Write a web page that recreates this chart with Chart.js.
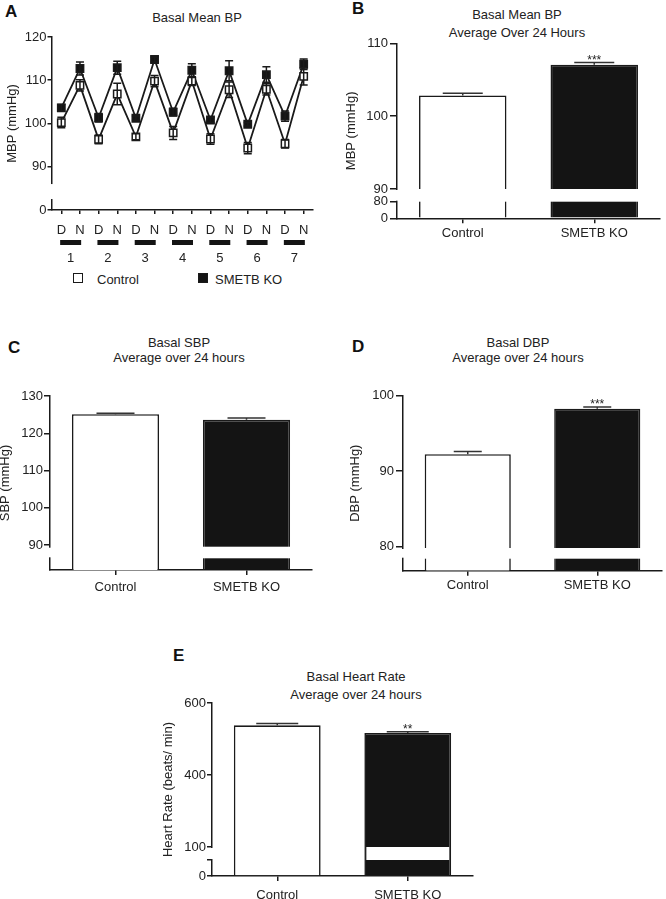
<!DOCTYPE html>
<html>
<head>
<meta charset="utf-8">
<title>Basal blood pressure and heart rate</title>
<script src="https://cdn.jsdelivr.net/npm/chart.js@4.4.1/dist/chart.umd.min.js"></script>
<style>
    body { margin: 0; background: #fff; }
    #fig {
        position: relative; width: 666px; height: 899px; overflow: hidden;
        font-family: "Liberation Sans", Arial, sans-serif; color: #222;
    }
    #fig canvas { position: absolute; }
    .letter { position: absolute; font-weight: bold; font-size: 17px; line-height: 17px; color: #111; }
    .title { position: absolute; transform: translateX(-50%); text-align: center; font-size: 13px; white-space: nowrap; }
    .legend-item { position: absolute; font-size: 13px; line-height: 14px; white-space: nowrap; }
    .legend-item .box {
        position: absolute; left: 0; top: 0; width: 8px; height: 8px;
        border: 1.3px solid #1a1a1a; background: #fff;
    }
    .legend-item .box.filled { background: #141414; }
</style>
</head>
<body>
<div id="fig">
    <div class="letter" style="left:5px; top:3px;">A</div>
    <div class="letter" style="left:352px; top:0px;">B</div>
    <div class="letter" style="left:8px; top:339px;">C</div>
    <div class="letter" style="left:352px; top:338px;">D</div>
    <div class="letter" style="left:173px; top:647px;">E</div>

    <div class="title" style="left:197px; top:10px; line-height:16px;">Basal Mean BP</div>
    <div class="title" style="left:517px; top:6px; line-height:18px;">Basal Mean BP<br>Average Over 24 Hours</div>
    <div class="title" style="left:179px; top:335px; line-height:15px;">Basal SBP<br>Average over 24 hours</div>
    <div class="title" style="left:518px; top:335px; line-height:15px;">Basal DBP<br>Average over 24 hours</div>
    <div class="title" style="left:356px; top:668px; line-height:18px;">Basal Heart Rate<br>Average over 24 hours</div>

    <div class="legend-item" style="left:73px; top:273px;"><span class="box"></span><span style="margin-left:24px;">Control</span></div>
    <div class="legend-item" style="left:198px; top:273px;"><span class="box filled"></span><span style="margin-left:17px;">SMETB KO</span></div>

    <canvas id="chart-a" width="330" height="270" style="left:0px; top:0px;"></canvas>
    <canvas id="chart-b" width="336" height="250" style="left:330px; top:0px;"></canvas>
    <canvas id="chart-c" width="324" height="275" style="left:-6px; top:330px;"></canvas>
    <canvas id="chart-d" width="326" height="275" style="left:340px; top:330px;"></canvas>
    <canvas id="chart-e" width="340" height="259" style="left:150px; top:640px;"></canvas>
</div>

<script>
// ---- values ----
const dayNight = ['D', 'N', 'D', 'N', 'D', 'N', 'D', 'N', 'D', 'N', 'D', 'N', 'D', 'N'];
const days = ['1', '2', '3', '4', '5', '6', '7'];
const controlMBP = [100.2, 108.8, 96.3, 106.8, 96.9, 109.8, 97.8, 109.8, 96.4, 107.8, 94.3, 107.9, 95.3, 110.9];
const controlMBPErr = [1.2, 1.3, 1.0, 2.5, 0.7, 1.3, 1.5, 1.0, 1.2, 1.8, 1.3, 1.3, 1.0, 2.0];
const koMBP = [103.6, 112.7, 101.3, 112.9, 101.2, 114.8, 102.6, 112.3, 100.8, 112.2, 99.8, 111.3, 101.7, 113.7];
const koMBPErr = [0.8, 1.5, 1.0, 1.5, 0.5, 0.6, 0.9, 1.5, 0.6, 2.3, 0.4, 1.8, 1.2, 1.2];

const groups = ['Control', 'SMETB KO'];
const meanBP24 = [102.84, 107.06];
const meanBP24Err = [0.3, 0.3];
const meanBP24Stars = ['', '***'];
const sbp24 = [125.1, 123.6];
const sbp24Err = [0.3, 0.5];
const sbp24Stars = ['', ''];
const dbp24 = [92.26, 98.27];
const dbp24Err = [0.35, 0.25];
const dbp24Stars = ['', '***'];
const hr24 = [538, 517];
const hr24Err = [5, 3];
const hr24Stars = ['', '**'];

const aTicks = [0, 90, 100, 110, 120];
const aTickLabels = ['0', '90', '100', '110', '120'];
const bTicks = [0, 80, 90, 100, 110];
const bTickLabels = ['0', '80', '90', '100', '110'];
const cTicks = [90, 100, 110, 120, 130];
const cTickLabels = ['90', '100', '110', '120', '130'];
const dTicks = [80, 90, 100];
const dTickLabels = ['80', '90', '100'];
const eTicks = [0, 50, 100, 400, 600];
const eTickLabels = ['0', '', '100', '400', '600'];

const INK = '#1a1a1a';
Chart.defaults.font.family = '"Liberation Sans", Arial, sans-serif';
Chart.defaults.color = '#222';

// Linear scale cut into segments (value range + relative height), with gaps between them
class SegmentedScale extends Chart.LinearScale {
    static id = 'segmented';

    determineDataLimits() {
        const segs = this.options.segments;
        this.min = segs[0][0];
        this.max = segs[segs.length - 1][1];
    }

    buildTicks() {
        return this.options.tickValues.map(value => ({ value }));
    }

    getPixelForValue(value) {
        const segs = this.options.segments;
        const gaps = this.options.gaps || [];
        const total = segs.reduce((s, g) => s + g[2], 0) + gaps.reduce((s, g) => s + g, 0);
        let acc = 0;
        let offset = 0;
        for (let i = 0; i < segs.length; i++) {
            const [lo, hi, w] = segs[i];
            if (value <= hi || i === segs.length - 1) {
                if (value < lo && i > 0) {
                    const prevHi = segs[i - 1][1];
                    const g = gaps[i - 1] || 0;
                    offset = acc - g + g * (value - prevHi) / (lo - prevHi);
                } else {
                    offset = acc + w * (value - lo) / (hi - lo);
                }
                break;
            }
            acc += w + (gaps[i] || 0);
        }
        return this.bottom - (this.bottom - this.top) * offset / total;
    }
}
Chart.register(SegmentedScale);

// white-out the axis (and chosen bars) inside each break
const segmentBreaks = {
    id: 'segmentBreaks',
    afterDatasetsDraw(chart, args, opts) {
        const y = chart.scales.y;
        const segs = y.options.segments;
        const gaps = y.options.gaps || [];
        const ctx = chart.ctx;
        const meta = chart.getDatasetMeta(0);
        const inset = opts.inset || 0;
        ctx.save();
        ctx.fillStyle = '#fff';
        gaps.forEach((g, i) => {
            if (!g) return;
            const yBottom = y.getPixelForValue(segs[i][1]);
            const yTop = y.getPixelForValue(segs[i + 1][0]);
            ctx.fillRect(chart.chartArea.left - 2, yTop + 1, 4, yBottom - yTop - 2);
            (opts.cut || []).forEach((cut, j) => {
                if (!cut) return;
                const bar = meta.data[j];
                ctx.fillRect(bar.x - bar.width / 2 + inset, yTop, bar.width - 2 * inset, yBottom - yTop);
            });
        });
        ctx.restore();
    }
};

const errorBars = {
    id: 'errorBars',
    afterDatasetsDraw(chart, args, opts) {
        const ctx = chart.ctx;
        const y = chart.scales.y;
        ctx.save();
        ctx.strokeStyle = opts.color || INK;
        ctx.lineWidth = opts.lineWidth || 1.5;
        chart.data.datasets.forEach((ds, i) => {
            if (!ds.errors) return;
            const meta = chart.getDatasetMeta(i);
            meta.data.forEach((el, j) => {
                const v = ds.data[j];
                const e = ds.errors[j];
                const yHi = y.getPixelForValue(v + e);
                const yLo = opts.both ? y.getPixelForValue(v - e) : el.y;
                const half = opts.capWidth / 2;
                ctx.beginPath();
                ctx.moveTo(el.x, yLo);
                ctx.lineTo(el.x, yHi);
                ctx.moveTo(el.x - half, yHi);
                ctx.lineTo(el.x + half, yHi);
                if (opts.both) {
                    ctx.moveTo(el.x - half, yLo);
                    ctx.lineTo(el.x + half, yLo);
                }
                ctx.stroke();
                if (ds.stars && ds.stars[j]) {
                    ctx.fillStyle = '#222';
                    ctx.font = '12px "Liberation Sans", Arial, sans-serif';
                    ctx.textAlign = 'center';
                    ctx.textBaseline = 'alphabetic';
                    ctx.fillText(ds.stars[j], el.x, yHi + 1);
                }
            });
        });
        ctx.restore();
    }
};

// black bar under each D/N pair
const dayBars = {
    id: 'dayBars',
    afterDraw(chart, args, opts) {
        const x2 = chart.scales.x2;
        const ctx = chart.ctx;
        ctx.save();
        ctx.fillStyle = '#141414';
        x2.ticks.forEach((t, i) => {
            const cx = x2.getPixelForTick(i);
            ctx.fillRect(cx - opts.width / 2, x2.top + opts.offset, opts.width, opts.height);
        });
        ctx.restore();
    }
};

function yAxis(segments, gaps, tickValues, tickLabels, title, width, tickLength, padding) {
    return {
        type: 'segmented',
        position: 'left',
        segments: segments,
        gaps: gaps,
        tickValues: tickValues,
        grid: { drawOnChartArea: false, tickLength: tickLength, color: INK, lineWidth: 1.5 },
        border: { color: INK, width: 1.5 },
        ticks: { font: { size: 13 }, padding: padding, autoSkip: false, callback: (v, i) => tickLabels[i] },
        title: { display: true, text: title, font: { size: 13 }, padding: { top: 4, bottom: 4 } },
        afterFit: s => { s.width = width; }
    };
}

function barChart(id, values, errors, stars, yScale, padding, xHeight, xPad, cut, inset, capWidth) {
    return new Chart(document.getElementById(id), {
        type: 'bar',
        data: {
            labels: groups,
            datasets: [{
                data: values,
                errors: errors,
                stars: stars,
                backgroundColor: ['#ffffff', '#141414'],
                borderColor: INK,
                borderWidth: 1.6,
                borderSkipped: 'start',
                barPercentage: 0.665,
                categoryPercentage: 1
            }]
        },
        options: {
            responsive: false,
            animation: false,
            events: [],
            layout: { padding: padding },
            plugins: {
                legend: { display: false },
                tooltip: { enabled: false },
                segmentBreaks: { cut: cut, inset: inset },
                errorBars: { capWidth: capWidth, color: '#333' }
            },
            scales: {
                x: {
                    offset: true,
                    grid: { drawOnChartArea: false, offset: false, tickLength: 5, color: INK, lineWidth: 1.5 },
                    border: { color: INK, width: 1.5 },
                    ticks: { font: { size: 13 }, padding: xPad, maxRotation: 0 },
                    afterFit: s => { s.height = xHeight; }
                },
                y: yScale
            }
        },
        plugins: [segmentBreaks, errorBars]
    });
}

// A: mean BP over 7 days
new Chart(document.getElementById('chart-a'), {
    type: 'line',
    data: {
        labels: dayNight,
        datasets: [
            {
                label: 'Control',
                data: controlMBP,
                errors: controlMBPErr,
                borderColor: INK,
                borderWidth: 1.8,
                pointStyle: 'rect',
                pointRadius: 5.2,
                pointBackgroundColor: '#fff',
                pointBorderColor: INK,
                pointBorderWidth: 1.5,
                tension: 0
            },
            {
                label: 'SMETB KO',
                data: koMBP,
                errors: koMBPErr,
                borderColor: INK,
                borderWidth: 1.8,
                pointStyle: 'rect',
                pointRadius: 5.2,
                pointBackgroundColor: '#141414',
                pointBorderColor: INK,
                pointBorderWidth: 1.5,
                tension: 0
            }
        ]
    },
    options: {
        responsive: false,
        animation: false,
        events: [],
        layout: { padding: { top: 37, right: 17, bottom: 0, left: 1 } },
        plugins: {
            legend: { display: false },
            tooltip: { enabled: false },
            segmentBreaks: { cut: [] },
            errorBars: { capWidth: 8, both: true },
            dayBars: { width: 21, height: 5, offset: 4 }
        },
        scales: {
            x: {
                type: 'category',
                offset: true,
                grid: { drawOnChartArea: false, offset: false, tickLength: 4, color: INK, lineWidth: 1.5 },
                border: { color: INK, width: 1.5 },
                ticks: { font: { size: 13 }, padding: 9, autoSkip: false, maxRotation: 0 },
                afterFit: s => { s.height = 26; }
            },
            x2: {
                type: 'category',
                labels: days,
                position: 'bottom',
                weight: 1,
                offset: true,
                grid: { display: false, drawTicks: false },
                border: { display: false },
                ticks: { font: { size: 13 }, padding: 15, autoSkip: false, maxRotation: 0 },
                afterFit: s => { s.height = 34; }
            },
            y: yAxis([[0, 2.3, 10], [86.2, 120, 146.3]], [17], aTicks, aTickLabels, 'MBP (mmHg)', 51, 4.5, 1)
        }
    },
    plugins: [segmentBreaks, errorBars, dayBars]
});

// B: mean BP, 24 h average
barChart('chart-b', meanBP24, meanBP24Err, meanBP24Stars,
    yAxis([[0, 80, 16.6], [90, 110, 145.7]], [12.7], bTicks, bTickLabels, 'MBP (mmHg)', 57, 7, 2),
    { top: 43.3, right: 6, bottom: 0, left: 10 }, 31.7, 2.4, [true, true], -2, 40);

// C: SBP
barChart('chart-c', sbp24, sbp24Err, sbp24Stars,
    yAxis([[0, 50, 11.7], [89.55, 130, 150.7]], [11.6], cTicks, cTickLabels, 'SBP (mmHg)', 56, 6, 1),
    { top: 66, right: 6, bottom: 0, left: 0 }, 35, 4.2, [false, true], -2, 38);

// D: DBP
barChart('chart-d', dbp24, dbp24Err, dbp24Stars,
    yAxis([[0, 50, 12], [79.83, 100, 152.3]], [10.7], dTicks, dTickLabels, 'DBP (mmHg)', 59, 7, 2),
    { top: 65.7, right: 4, bottom: 0, left: 4 }, 34.3, 1.5, [true, true], -2, 28);

// E: heart rate
barChart('chart-e', hr24, hr24Err, hr24Stars,
    yAxis([[0, 50, 16], [100, 400, 72], [400, 600, 72]], [13, 0], eTicks, eTickLabels, 'Heart Rate (beats/ min)', 55, 5, 1),
    { top: 63, right: 17, bottom: 0, left: 7 }, 23, 6.2, [false, true], 2, 42);
</script>
</body>
</html>
